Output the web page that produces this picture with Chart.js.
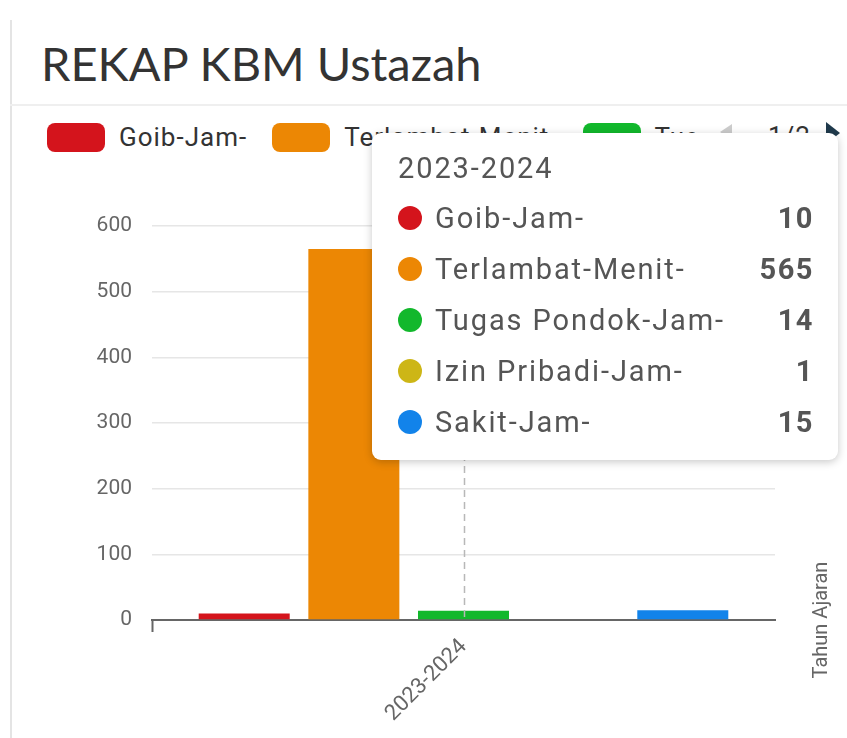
<!DOCTYPE html>
<html>
<head>
<meta charset="utf-8">
<script src="https://cdn.jsdelivr.net/npm/chart.js@4.4.1/dist/chart.umd.min.js"></script>
<style>
  html, body { margin: 0; padding: 0; background: #fff; }
  body { width: 847px; height: 738px; position: relative; overflow: hidden; font-family: Roboto, sans-serif; }
  .frame { position: absolute; left: 10px; top: 20px; bottom: 0; border-left: 2px solid #e4e4e4; }
  .title { position: absolute; left: 41px; top: 35px; font-family: Lato, sans-serif; font-size: 47px; color: #333; letter-spacing: 0px; }
  .rule { position: absolute; left: 10px; right: 0; top: 104px; border-top: 2px solid #efefef; }
  #legend { position: absolute; left: 47px; top: 121px; width: 648px; height: 34px; overflow: hidden; white-space: nowrap; }
  .item { display: inline-flex; align-items: center; margin-right: 25px; font-size: 26px; letter-spacing: 1px; color: #333; vertical-align: top; height: 32px; }
  .box { width: 58px; height: 29px; border-radius: 8px; margin-right: 14px; }
  .pager { position: absolute; top: 118px; left: 716px; font-size: 26px; color: #333; }
  .pager .prev { position: absolute; left: 4px; top: 6px; width: 0; height: 0; border-top: 8px solid transparent; border-bottom: 8px solid transparent; border-right: 12px solid #ccc; }
  .pager .num { position: absolute; left: 52px; top: 3px; letter-spacing: 1px; }
  .pager .next { position: absolute; left: 110px; top: 4px; width: 0; height: 0; border-top: 11px solid transparent; border-bottom: 11px solid transparent; border-left: 14px solid #1f3a4c; }
  #wrap { position: absolute; left: 0; top: 180px; width: 847px; height: 558px; }
  #tip { position: absolute; left: 372px; top: 133px; width: 466px; height: 327px; background: #fff; border-radius: 9px;
         box-shadow: 0 2px 8px rgba(0,0,0,0.22); box-sizing: border-box; padding: 16px 26px 0 26px; color: #555; font-size: 29px; letter-spacing: 1.9px; z-index: 5; }
  #tip .head { margin: 2px 0 7px 0; color: #555; }
  #tip .row { display: flex; align-items: center; height: 51px; }
  #tip .dot { width: 24px; height: 24px; border-radius: 50%; margin-right: 13px; }
  #tip .lab { flex: 1; }
  #tip .val { font-weight: bold; text-align: right; letter-spacing: 1.5px; margin-right: -2px; }
</style>
</head>
<body>
<div class="frame"></div>
<div class="title">REKAP KBM Ustazah</div>
<div class="rule"></div>
<div id="legend"></div>
<div class="pager"><span class="prev"></span><span class="num">1/2</span><span class="next"></span></div>
<div id="wrap"><canvas id="chart"></canvas></div>
<div id="tip"></div>
<script>
const categories = ["2023-2024"];
const seriesNames = ["Goib-Jam-", "Terlambat-Menit-", "Tugas Pondok-Jam-", "Izin Pribadi-Jam-", "Sakit-Jam-"];
const seriesValues = [[10], [565], [14], [1], [15]];
const seriesColors = ["#d4141c", "#ec8704", "#12b82c", "#cdb616", "#1283ea"];
const yTicks = [0, 100, 200, 300, 400, 500, 600];
const xAxisTitle = "Tahun Ajaran";

// garis putus-putus di tengah kategori + judul sumbu x di kanan
const crosshair = {
  id: "crosshair",
  afterDatasetsDraw(chart) {
    const { ctx, chartArea, scales } = chart;
    const x = Math.round(scales.x.getPixelForValue(0)) + 0.5;
    ctx.save();
    ctx.strokeStyle = "#b8b8b8";
    ctx.lineWidth = 1.5;
    ctx.setLineDash([7, 5]);
    ctx.beginPath();
    ctx.moveTo(x, chartArea.top);
    ctx.lineTo(x, chartArea.bottom);
    ctx.stroke();
    ctx.restore();
  },
  afterDraw(chart) {
    const { ctx, chartArea } = chart;
    ctx.save();
    ctx.translate(822, chartArea.bottom);
    ctx.rotate(-Math.PI / 2);
    ctx.font = "20px Roboto";
    ctx.fillStyle = "#666";
    ctx.textAlign = "center";
    ctx.textBaseline = "middle";
    ctx.fillText(xAxisTitle, 0, 0);
    ctx.restore();
  }
};

function externalTip(context) {
  const el = document.getElementById("tip");
  const tt = context.tooltip;
  if (!tt.dataPoints || !tt.dataPoints.length) return;
  let html = '<div class="head">' + tt.title.join("") + "</div>";
  tt.dataPoints.forEach(function (p) {
    html += '<div class="row"><span class="dot" style="background:' + p.dataset.backgroundColor + '"></span>' +
      '<span class="lab">' + p.dataset.label + '</span><span class="val">' + p.formattedValue + "</span></div>";
  });
  el.innerHTML = html;
}

const datasets = seriesNames.map(function (name, i) {
  return {
    label: name,
    data: seriesValues[i],
    backgroundColor: seriesColors[i],
    categoryPercentage: 0.88,
    barPercentage: 0.83
  };
});

const chart = new Chart(document.getElementById("chart"), {
  type: "bar",
  data: { labels: categories, datasets: datasets },
  options: {
    responsive: true,
    maintainAspectRatio: false,
    animation: false,
    layout: { padding: { top: 46, right: 72, left: 0, bottom: 0 } },
    interaction: { mode: "index", intersect: false },
    plugins: {
      legend: { display: false },
      tooltip: { enabled: false, external: externalTip }
    },
    scales: {
      x: {
        afterFit(scale) { scale.height = 118; },
        border: { display: true, color: "#666", width: 2 },
        grid: {
          drawOnChartArea: false,
          drawTicks: true,
          tickLength: 12,
          tickWidth: 2,
          tickColor: (ctx) => (ctx.index === 0 ? "#666" : "rgba(0,0,0,0)")
        },
        ticks: {
          color: "#666",
          font: { family: "Roboto", size: 22 },
          minRotation: 45,
          maxRotation: 45,
          padding: 2
        }
      },
      y: {
        min: 0,
        max: 600,
        afterFit(scale) { scale.width = 152; },
        afterBuildTicks(scale) { scale.ticks = yTicks.map(v => ({ value: v })); },
        border: { display: false },
        grid: { color: "#e6e6e6", lineWidth: 1.5, drawTicks: false },
        ticks: { color: "#666", font: { family: "Roboto", size: 21 }, padding: 20 }
      }
    }
  },
  plugins: [crosshair]
});

// legenda HTML dari dataset
const legend = document.getElementById("legend");
chart.data.datasets.forEach(function (ds) {
  const it = document.createElement("span");
  it.className = "item";
  it.innerHTML = '<span class="box" style="background:' + ds.backgroundColor + '"></span>' + ds.label;
  legend.appendChild(it);
});

chart.tooltip.setActiveElements(
  chart.data.datasets.map((d, i) => ({ datasetIndex: i, index: 0 })),
  { x: chart.scales.x.getPixelForValue(0), y: 200 }
);
chart.update();
</script>
</body>
</html>
